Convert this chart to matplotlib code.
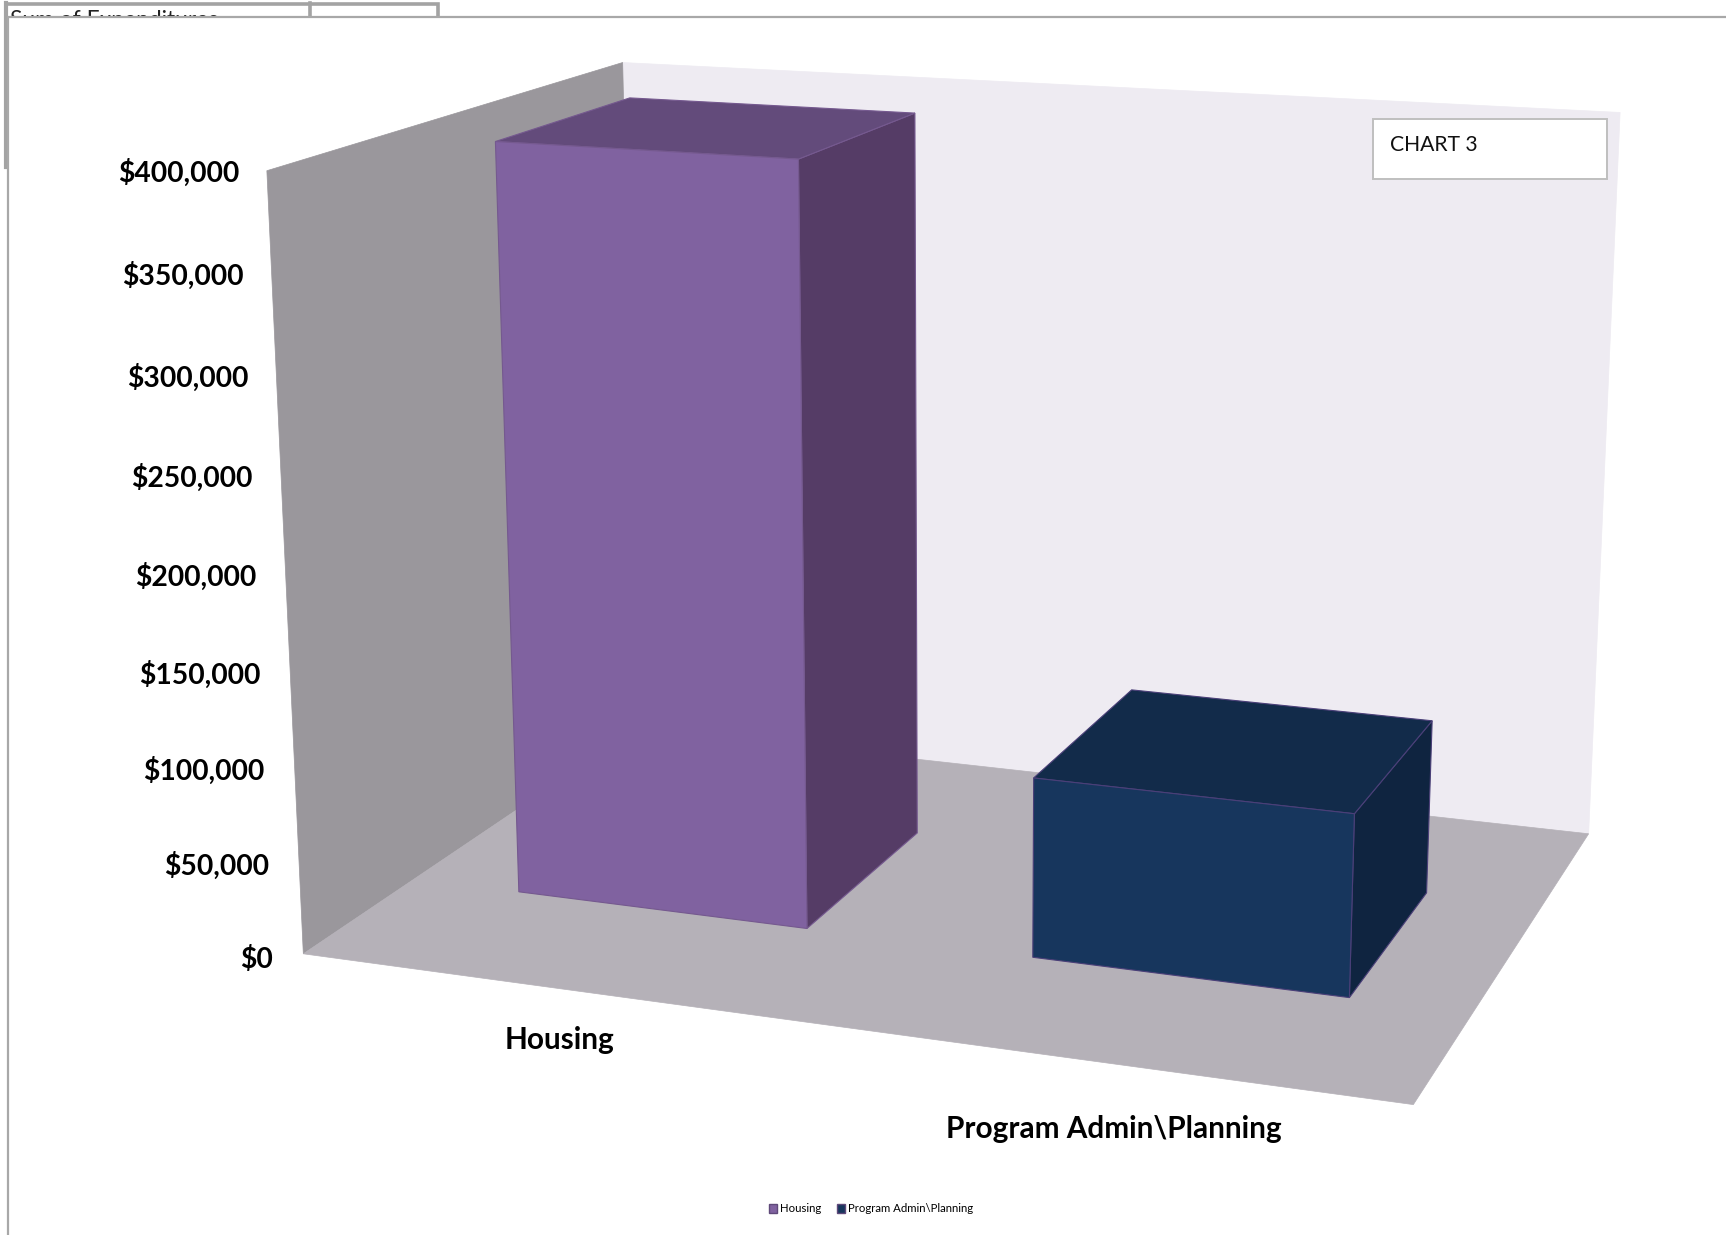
import numpy as np
import matplotlib
matplotlib.use('Agg')
import matplotlib.pyplot as plt
from matplotlib.patches import Polygon, Rectangle, Patch

# Data
categories = ['Housing', 'Program Admin\\Planning']
values = [399600, 95200]
tick_values = [0, 50000, 100000, 150000, 200000, 250000, 300000, 350000, 400000]
chart_label = 'CHART 3'
table_text = 'Sum of Expenditures'

front_colors = ['#8062A0', '#17365D']
side_colors = ['#553C66', '#0F2440']
top_colors = ['#634B7B', '#122B4A']
edge_colors = ['#75598F', '#4A3F78']

W, H = 1726, 1235
value_max = 400000
bar_width = 0.286
bar_z = (0.297, 0.694)
s = W / 1568  # picture was measured at 1568 wide

# Camera: unit box (x, value, depth) -> pixels, fitted on the corners of the box
box_world = [(0, 0, 0), (1, 0, 0), (1, 0, 1), (0, 0, 1), (0, 1, 0), (0, 1, 1), (1, 1, 1)]
box_pixels = [(275, 867), (1284, 1003), (1443, 758), (580, 661), (243, 155), (565, 57), (1472, 102)]
A, b = [], []
for (X, Y, Z), (u, v) in zip(box_world, box_pixels):
    u, v = u * s, v * s
    A.append([X, Y, Z, 1, 0, 0, 0, 0, -u * X, -u * Y, -u * Z])
    b.append(u)
    A.append([0, 0, 0, 0, X, Y, Z, 1, -v * X, -v * Y, -v * Z])
    b.append(v)
M = np.append(np.linalg.lstsq(np.array(A, float), np.array(b, float), rcond=None)[0], 1).reshape(3, 4)


def project(x, value, z):
    q = M @ np.array([x, value / value_max, z, 1.0])
    return q[0] / q[2], q[1] / q[2]


def face(ax, corners, color, edge=None, zorder=3, lw=0.5):
    pts = [project(*c) for c in corners]
    ax.add_patch(Polygon(pts, closed=True, facecolor=color, edgecolor=edge or color,
                         linewidth=lw, zorder=zorder))


fig = plt.figure(figsize=(W / 100, H / 100), dpi=100)
ax = fig.add_axes([0, 0, 1, 1])
ax.set_xlim(0, W)
ax.set_ylim(H, 0)
ax.axis('off')

# spreadsheet cell peeking out behind the chart
grid = '#A3A3A3'
ax.add_patch(Rectangle((5.5, 3.5), 432, 60, fill=False, edgecolor=grid, linewidth=2.6, zorder=1))
ax.plot([310, 310], [3, 40], color=grid, linewidth=2.6, zorder=1)
ax.plot([5.5, 5.5], [3, 167], color=grid, linewidth=3.0, zorder=1)
ax.text(10, 27, table_text, fontsize=16.4, family='Lato', color='#222222', va='baseline', zorder=1)

# chart area
ax.add_patch(Rectangle((8, 17), W, H, facecolor='white', edgecolor='#A8A8A8', linewidth=1.6, zorder=2))

# walls and floor
face(ax, [(0, 0, 1), (1, 0, 1), (1, value_max, 1), (0, value_max, 1)], '#EEEBF2')
face(ax, [(0, 0, 0), (0, 0, 1), (0, value_max, 1), (0, value_max, 0)], '#9A979C')
face(ax, [(0, 0, 0), (1, 0, 0), (1, 0, 1), (0, 0, 1)], '#B5B1B8')

# bars
for i, val in enumerate(values):
    x0 = 0.25 + 0.5 * i - bar_width / 2
    x1 = x0 + bar_width
    z0, z1 = bar_z
    e = edge_colors[i]
    face(ax, [(x1, 0, z0), (x1, 0, z1), (x1, val, z1), (x1, val, z0)], side_colors[i], e, 4, 0.8)
    face(ax, [(x0, val, z0), (x1, val, z0), (x1, val, z1), (x0, val, z1)], top_colors[i], e, 4, 0.8)
    face(ax, [(x0, 0, z0), (x1, 0, z0), (x1, val, z0), (x0, val, z0)], front_colors[i], e, 5, 0.8)

# value labels
for t in tick_values:
    px, py = project(0, t, 0)
    frac = t / value_max
    ax.text(px - 30.5 + 3 * frac, py + 6 - 4 * frac, f'${t:,}', ha='right', va='center', fontsize=20.3,
            fontweight='bold', family='Lato', color='black', zorder=6)

# category labels
label_drop = [51, 65]
for i, name in enumerate(categories):
    px, py = project(0.25 + 0.5 * i, 0, 0)
    ax.text(px - 1, py + label_drop[i], name, ha='center', va='center', fontsize=21.4,
            fontweight='bold', family='Lato', color='black', zorder=6)

# chart 3 box
ax.add_patch(Rectangle((1373, 119), 234, 60, facecolor='white', edgecolor='#BFBFBF', linewidth=1.4, zorder=6))
ax.text(1390, 145, chart_label, fontsize=15.2, family='Lato', va='center', color='#111111', zorder=7)

# legend
handles = [Patch(facecolor=c, edgecolor='#5F497A', linewidth=1.0) for c in front_colors]
ax.legend(handles, categories, loc='center', bbox_to_anchor=(871, 1209), bbox_transform=ax.transData,
          frameon=False, ncol=2, handlelength=0.72, handleheight=0.72, handletextpad=0.25,
          columnspacing=1.4, prop={'family': 'Lato', 'size': 8.2})

fig.savefig('out.png', dpi=100)
